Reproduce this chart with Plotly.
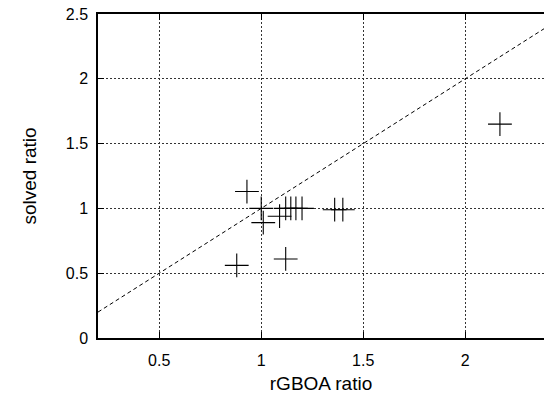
import plotly.graph_objects as go

x_vals = [0.88, 0.93, 1.00, 1.01, 1.09, 1.12, 1.145, 1.17, 1.20, 1.12, 1.36, 1.40, 2.17]
y_vals = [0.56, 1.13, 1.00, 0.89, 0.94, 1.00, 1.00, 1.00, 1.00, 0.61, 0.99, 0.99, 1.65]
ref_x = [0.2, 2.4]
ref_y = [0.2, 2.4]
x_ticks = [0.5, 1, 1.5, 2]
y_ticks = [0, 0.5, 1, 1.5, 2, 2.5]

fig = go.Figure()
fig.add_trace(go.Scatter(x=ref_x, y=ref_y, mode="lines",
                         line=dict(color="black", width=1, dash="4px,3px"),
                         showlegend=False, hoverinfo="skip"))
fig.add_trace(go.Scatter(x=x_vals, y=y_vals, mode="markers",
                         marker=dict(symbol="cross-thin", size=17,
                                     line=dict(color="black", width=1.1)),
                         showlegend=False))

font = dict(family="Liberation Sans, Arial, sans-serif", size=16, color="black")
fig.update_layout(
    width=544, height=396,
    margin=dict(l=98, r=0, t=14, b=58),
    paper_bgcolor="white", plot_bgcolor="white",
    font=font,
    xaxis=dict(range=[0.2, 2.386], tickvals=x_ticks, ticktext=[str(v) for v in x_ticks],
               showgrid=True, gridcolor="#333333", griddash="2px,2px", gridwidth=1,
               showline=True, linecolor="black", linewidth=1.5, mirror="ticks",
               ticks="inside", ticklen=6, tickcolor="black",
               zeroline=False, ticklabelstandoff=7,
               title=dict(text="rGBOA ratio", standoff=9)),
    yaxis=dict(range=[0, 2.5], tickvals=y_ticks, ticktext=[str(v) for v in y_ticks],
               showgrid=True, gridcolor="#333333", griddash="2px,2px", gridwidth=1,
               showline=True, linecolor="black", linewidth=1.5,
               ticks="inside", ticklen=6, tickcolor="black",
               zeroline=False, ticklabelstandoff=5,
               title=dict(text="solved ratio", standoff=24)),
)
fig.write_html("out.html")
